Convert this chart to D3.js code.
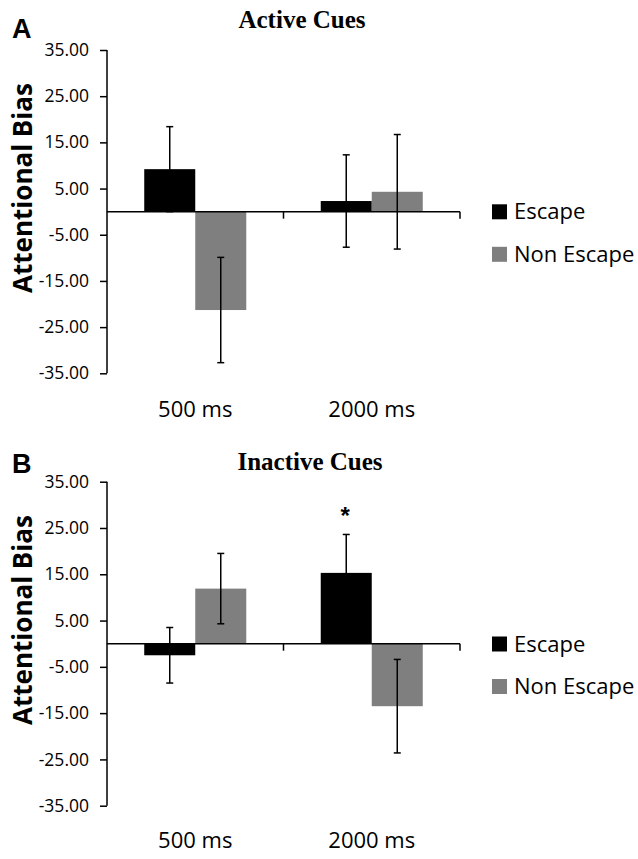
<!DOCTYPE html>
<html>
<head>
<meta charset="utf-8">
<script src="https://cdn.jsdelivr.net/npm/d3@7"></script>
<style>
  html, body { margin: 0; padding: 0; background: #fff; }
  svg { display: block; }
</style>
</head>
<body>
<script>
// ---- data ----
const categories = ["500 ms", "2000 ms"];
const seriesNames = ["Escape", "Non Escape"];
const seriesColors = ["#000000", "#7f7f7f"];
const yTicks = [35, 25, 15, 5, -5, -15, -25, -35];

const activeEscape = [9.2, 2.3];
const activeEscapeErr = [9.2, 10.0];
const activeNonEscape = [-21.3, 4.3];
const activeNonEscapeErr = [11.4, 12.4];

const inactiveEscape = [-2.5, 15.3];
const inactiveEscapeErr = [6.0, 8.3];
const inactiveNonEscape = [11.9, -13.5];
const inactiveNonEscapeErr = [7.6, 10.1];

const panels = [
  { letter: "A", title: "Active Cues", values: [activeEscape, activeNonEscape], errors: [activeEscapeErr, activeNonEscapeErr], stars: [] ,
    top: 50, bottom: 373.3, titleY: 28.3, titleX: 302, letterY: 37.7, labelY: 417, legendY: 204.3, yTitleY: 188 },
  { letter: "B", title: "Inactive Cues", values: [inactiveEscape, inactiveNonEscape], errors: [inactiveEscapeErr, inactiveNonEscapeErr], stars: [{cat: "2000 ms", s: 0}],
    top: 481.7, bottom: 805.7, titleY: 470, titleX: 310, letterY: 472.7, labelY: 848, legendY: 636.5, yTitleY: 620 }
];

const W = 638, H = 859;
const svg = d3.select("body").append("svg").attr("width", W).attr("height", H);

const xLeft = 107, xRight = 460;
const x = d3.scaleBand().domain(categories).range([xLeft, xRight]).paddingInner(0).paddingOuter(0);
const xs = d3.scaleBand().domain(seriesNames).range([0, x.bandwidth()]).paddingInner(0).paddingOuter(0.73);

const sansFont = "'Open Sans', 'DejaVu Sans', sans-serif";

panels.forEach(p => {
  const g = svg.append("g");
  const y = d3.scaleLinear().domain([-35, 35]).range([p.bottom, p.top]);

  // letter
  g.append("text").attr("x", 12).attr("y", p.letterY)
    .attr("font-family", "'Liberation Sans', Arial, sans-serif").attr("font-weight", "bold")
    .attr("font-size", 27).text(p.letter);

  // title
  g.append("text").attr("x", p.titleX).attr("y", p.titleY)
    .attr("text-anchor", "middle")
    .attr("font-family", "'Liberation Serif', 'Times New Roman', serif").attr("font-weight", "bold")
    .attr("font-size", 25).text(p.title);

  // bars
  seriesNames.forEach((s, si) => {
    g.selectAll(null).data(categories).enter().append("rect")
      .attr("x", c => x(c) + xs(s))
      .attr("width", xs.bandwidth())
      .attr("y", (c, i) => y(Math.max(0, p.values[si][i])))
      .attr("height", (c, i) => Math.abs(y(p.values[si][i]) - y(0)))
      .attr("fill", seriesColors[si]);
  });

  // error bars
  seriesNames.forEach((s, si) => {
    categories.forEach((c, i) => {
      const cx = x(c) + xs(s) + xs.bandwidth() / 2;
      const v = p.values[si][i], e = p.errors[si][i];
      const eg = g.append("g").attr("stroke", "#000").attr("stroke-width", 1.5);
      eg.append("line").attr("x1", cx).attr("x2", cx).attr("y1", y(v + e)).attr("y2", y(v - e));
      [v + e, v - e].forEach(ev => {
        eg.append("line").attr("x1", cx - 3.5).attr("x2", cx + 3.5).attr("y1", y(ev)).attr("y2", y(ev));
      });
    });
  });

  // stars
  p.stars.forEach(st => {
    const si = st.s;
    const i = categories.indexOf(st.cat);
    const cx = x(st.cat) + xs(seriesNames[si]) + xs.bandwidth() / 2;
    const v = p.values[si][i], e = p.errors[si][i];
    g.append("text").attr("x", cx - 1).attr("y", y(v + e) - 10)
      .attr("text-anchor", "middle")
      .attr("font-family", "'Liberation Sans', Arial, sans-serif").attr("font-weight", "bold")
      .attr("font-size", 24).text("*");
  });

  // x axis line at zero with boundary ticks
  const ax = g.append("g").attr("stroke", "#000").attr("stroke-width", 1.5);
  ax.append("line").attr("x1", xLeft).attr("x2", xRight).attr("y1", y(0)).attr("y2", y(0));
  categories.forEach(c => {
    const bx = x(c) + x.bandwidth();
    ax.append("line").attr("x1", bx).attr("x2", bx).attr("y1", y(0)).attr("y2", y(0) + 7);
  });

  // category labels
  g.selectAll(null).data(categories).enter().append("text")
    .attr("x", c => x(c) + x.bandwidth() / 2)
    .attr("y", p.labelY)
    .attr("text-anchor", "middle")
    .attr("font-family", sansFont).attr("font-size", 22)
    .text(c => c);

  // y axis
  const yAxis = d3.axisLeft(y).tickValues(yTicks).tickSize(7).tickPadding(11)
    .tickFormat(d => d.toFixed(2));
  const ya = g.append("g").attr("transform", `translate(${xLeft},0)`).call(yAxis);
  ya.select(".domain").attr("stroke", "#000").attr("stroke-width", 1.5).attr("d", `M0,${p.top}V${p.bottom}`);
  ya.selectAll(".tick line").attr("stroke", "#000").attr("stroke-width", 1.5);
  ya.selectAll(".tick text").attr("font-family", sansFont).attr("font-size", 17.5).attr("fill", "#000");

  // y title
  g.append("text").attr("transform", `translate(32,${p.yTitleY}) rotate(-90)`)
    .attr("text-anchor", "middle")
    .attr("font-family", sansFont).attr("font-weight", "bold")
    .attr("font-size", 26).text("Attentional Bias");

  // legend
  seriesNames.forEach((s, si) => {
    const ly = p.legendY + si * 42.5;
    g.append("rect").attr("x", 492).attr("y", ly).attr("width", 15).attr("height", 15)
      .attr("fill", seriesColors[si]);
    g.append("text").attr("x", 514).attr("y", ly + 15)
      .attr("font-family", sansFont).attr("font-size", 22).text(s);
  });
});
</script>
</body>
</html>
